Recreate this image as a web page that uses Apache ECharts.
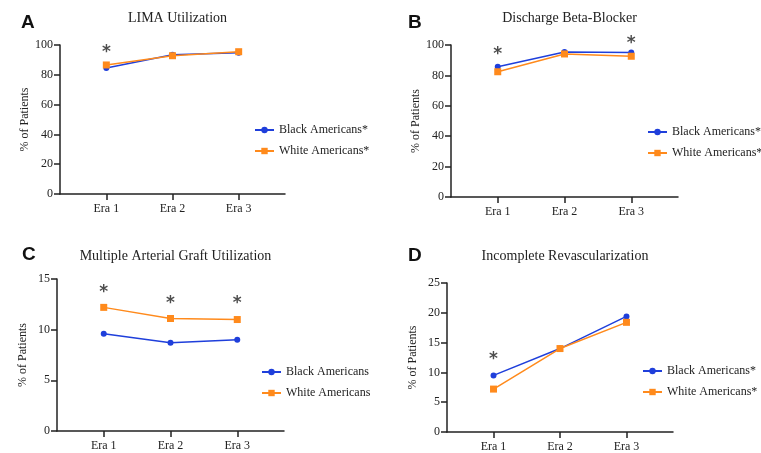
<!DOCTYPE html>
<html>
<head>
<meta charset="utf-8">
<script src="https://cdn.jsdelivr.net/npm/echarts@6/dist/echarts.min.js"></script>
<style>
  html, body { margin: 0; padding: 0; background: #fff; }
  #chart { width: 761px; height: 453px; }
</style>
</head>
<body>
<div id="chart"></div>
<script>
// categories
var eras = ['Era 1', 'Era 2', 'Era 3'];

// panel A - LIMA Utilization
var limaBlack = [84.5, 93.5, 94.8];
var limaWhite = [86.6, 92.8, 95.5];
var limaStars = [[1, 95]];

// panel B - Discharge Beta-Blocker
var bbBlack = [85.7, 95.4, 95.1];
var bbWhite = [82.4, 94.1, 92.6];
var bbStars = [[1, 94], [3, 101]];

// panel C - Multiple Arterial Graft Utilization
var magBlack = [9.6, 8.7, 9.0];
var magWhite = [12.2, 11.1, 11.0];
var magStars = [[1, 13.7], [2, 12.6], [3, 12.6]];

// panel D - Incomplete Revascularization
var irBlack = [9.5, 14.0, 19.4];
var irWhite = [7.2, 14.0, 18.4];
var irStars = [[1, 12.1]];

// y ticks
var yMaxes = [100, 100, 15, 25];
var yIntervals = [20, 20, 5, 5];

var titles = ['LIMA Utilization', 'Discharge Beta-Blocker', 'Multiple Arterial Graft Utilization', 'Incomplete Revascularization'];
var letters = ['A', 'B', 'C', 'D'];
var blackNames = ['Black Americans*', 'Black Americans*', 'Black Americans', 'Black Americans*'];
var whiteNames = ['White Americans*', 'White Americans*', 'White Americans', 'White Americans*'];

var BLUE = '#1f3fdb';
var ORANGE = '#ff8a1c';
var INK = '#222';
var SERIF = 'Liberation Serif';

var grids = [
  { left: 60, top: 45, width: 225, height: 149 },
  { left: 451, top: 45, width: 227, height: 152 },
  { left: 57, top: 279, width: 227, height: 152 },
  { left: 447, top: 283, width: 226, height: 152 }
];
var legendPos = [[249, 119], [642, 121], [256, 361], [637, 360]];
var titleTops = [6, 6, 244, 244];
var letterPos = [[16, 8], [403, 8], [17, 240], [403, 241]];

function toPts(arr) {
  return arr.map(function (v, i) { return [i + 1, v]; });
}

var blacks = [limaBlack, bbBlack, magBlack, irBlack];
var whites = [limaWhite, bbWhite, magWhite, irWhite];
var stars = [limaStars, bbStars, magStars, irStars];

var xAxes = [], yAxes = [], series = [], legends = [], titleList = [];

grids.forEach(function (g, k) {
  xAxes.push({
    type: 'value', gridIndex: k, min: 0.3, max: 3.7,
    splitLine: { show: false },
    axisLine: { show: true, lineStyle: { color: INK, width: 1.5 } },
    axisTick: { show: true, length: 6, customValues: [1, 2, 3], lineStyle: { color: INK, width: 1.5 } },
    axisLabel: {
      customValues: [1, 2, 3], color: INK, fontFamily: SERIF, fontSize: 12, margin: 9,
      formatter: function (v) { return eras[Math.round(v) - 1]; }
    }
  });
  yAxes.push({
    type: 'value', gridIndex: k, min: 0, max: yMaxes[k], interval: yIntervals[k],
    name: '% of Patients', nameLocation: 'middle', nameGap: 28,
    nameTextStyle: { color: INK, fontFamily: SERIF, fontSize: 12 },
    splitLine: { show: false },
    axisLine: { show: true, lineStyle: { color: INK, width: 1.5 } },
    axisTick: { show: true, length: 6, lineStyle: { color: INK, width: 1.5 } },
    axisLabel: { color: INK, fontFamily: SERIF, fontSize: 12, margin: 7 }
  });
  series.push({
    name: blackNames[k], type: 'line', xAxisIndex: k, yAxisIndex: k,
    data: toPts(blacks[k]), symbol: 'circle', symbolSize: 6,
    color: BLUE, lineStyle: { color: BLUE, width: 1.5 }, z: 3
  });
  series.push({
    name: whiteNames[k], type: 'line', xAxisIndex: k, yAxisIndex: k,
    data: toPts(whites[k]), symbol: 'rect', symbolSize: 7,
    color: ORANGE, lineStyle: { color: ORANGE, width: 1.5 }, z: 4
  });
  series.push({
    type: 'scatter', xAxisIndex: k, yAxisIndex: k, data: stars[k],
    symbolSize: 1, itemStyle: { color: 'rgba(0,0,0,0)' }, clip: false,
    label: { show: true, position: 'inside', formatter: '*', color: '#222', fontFamily: 'DejaVu Sans', fontWeight: 'bold', fontSize: 17 },
    silent: true
  });
  legends.push({
    data: [blackNames[k], whiteNames[k]],
    orient: 'vertical',
    left: legendPos[k][0], top: legendPos[k][1],
    itemWidth: 19, itemHeight: 8, itemGap: 9,
    textStyle: { color: INK, fontFamily: SERIF, fontSize: 12 },
    selectedMode: false
  });
  titleList.push({
    text: titles[k], left: g.left + (2 - 0.3) / 3.4 * g.width, top: titleTops[k],
    textAlign: 'center',
    textStyle: { color: INK, fontFamily: SERIF, fontSize: 14, fontWeight: 'normal' }
  });
  titleList.push({
    text: letters[k], left: letterPos[k][0], top: letterPos[k][1],
    textStyle: { color: '#111', fontFamily: 'Liberation Sans', fontSize: 19, fontWeight: 'bold' }
  });
});

var chart = echarts.init(document.getElementById('chart'));
chart.setOption({
  animation: false,
  backgroundColor: '#fff',
  title: titleList,
  legend: legends,
  grid: grids,
  xAxis: xAxes,
  yAxis: yAxes,
  series: series
});
</script>
</body>
</html>
